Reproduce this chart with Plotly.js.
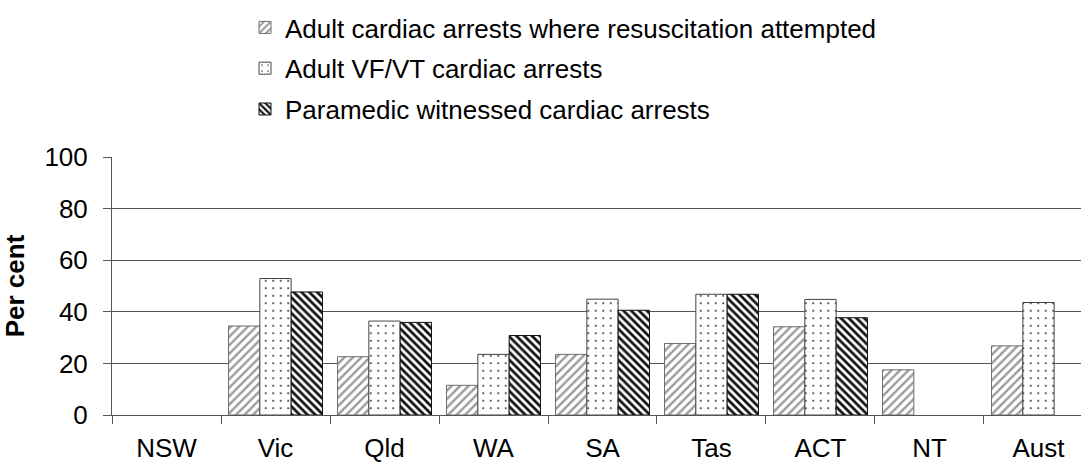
<!DOCTYPE html>
<html>
<head>
<meta charset="utf-8">
<script src="https://cdn.plot.ly/plotly-3.0.1.min.js"></script>
<style>html,body{margin:0;padding:0;background:#fff}#chart{width:1081px;height:462px}</style>
</head>
<body>
<div id="chart"></div>
<script>
var categories = ["NSW", "Vic", "Qld", "WA", "SA", "Tas", "ACT", "NT", "Aust"];
var seriesNames = ["Adult cardiac arrests where resuscitation attempted", "Adult VF/VT cardiac arrests", "Paramedic witnessed cardiac arrests"];
var resusAttempted = [null, 34.5, 22.6, 11.5, 23.5, 27.7, 34.2, 17.5, 26.8];
var vfvt = [null, 52.9, 36.4, 23.5, 44.9, 46.8, 44.8, null, 43.6];
var paramedicWitnessed = [null, 47.7, 35.9, 30.8, 40.6, 46.8, 37.7, null, null];
var yTicks = [0, 20, 40, 60, 80, 100];

var FONT = "Arial, 'Liberation Sans', sans-serif";
var FS = 26;

var traces = [
  {
    type: "bar", name: seriesNames[0], x: categories, y: resusAttempted,
    legendgroup: "a",
    marker: {color: "#ffffff", line: {color: "#6e6e6e", width: 1},
      pattern: {shape: "/", fgcolor: "#9a9a9a", bgcolor: "#ffffff", size: 6, solidity: 0.4}}
  },
  {
    type: "bar", name: seriesNames[1], x: categories, y: vfvt,
    legendgroup: "b",
    marker: {color: "#ffffff", line: {color: "#444444", width: 1},
      pattern: {shape: ".", fgcolor: "#333333", bgcolor: "#ffffff", size: 7.5, solidity: 0.06}}
  },
  {
    type: "bar", name: seriesNames[2], x: categories, y: paramedicWitnessed,
    legendgroup: "c",
    marker: {color: "#ffffff", line: {color: "#111111", width: 1},
      pattern: {shape: "\\", fgcolor: "#111111", bgcolor: "#ffffff", size: 5.5, solidity: 0.5}}
  }
];

var ML = 112, MT = 157, MB = 47, W = 1081, H = 462;
var plotW = W - ML, plotH = H - MT - MB;

var layout = {
  width: W, height: H,
  margin: {l: ML, r: 0, t: MT, b: MB, pad: 0, autoexpand: false},
  paper_bgcolor: "#ffffff", plot_bgcolor: "#ffffff",
  font: {family: FONT, size: FS, color: "#000000"},
  barmode: "group", bargap: 0.138, bargroupgap: 0,
  showlegend: true,
  legend: {
    xref: "paper", yref: "paper",
    x: (245 - ML) / plotW, y: (H - MB - 4) / plotH, xanchor: "left", yanchor: "top",
    font: {family: FONT, size: FS, color: "#000000"},
    traceorder: "grouped", tracegroupgap: 4,
    bgcolor: "rgba(0,0,0,0)", borderwidth: 0
  },
  xaxis: {
    type: "category", range: [-0.5, 8.39],
    tickson: "boundaries", ticks: "outside", ticklen: 8, tickcolor: "#555555",
    showline: true, linecolor: "#555555", linewidth: 1,
    showgrid: false, zeroline: false, tickangle: 0, automargin: false,
    ticklabelstandoff: 10,
    tickfont: {family: FONT, size: FS}, fixedrange: true
  },
  yaxis: {
    range: [0, 100], tickvals: yTicks, ticks: "outside", ticklen: 8, tickcolor: "#555555",
    showline: true, linecolor: "#555555", linewidth: 1, automargin: true,
    showgrid: true, gridcolor: "#555555", gridwidth: 1, zeroline: false,
    ticklabelstandoff: 10,
    tickfont: {family: FONT, size: FS},
    title: {text: "<b>Per cent</b>", font: {family: FONT, size: FS}, standoff: 12},
    fixedrange: true
  }
};

Plotly.newPlot("chart", traces, layout, {displayModeBar: false, staticPlot: true});
</script>
</body>
</html>
